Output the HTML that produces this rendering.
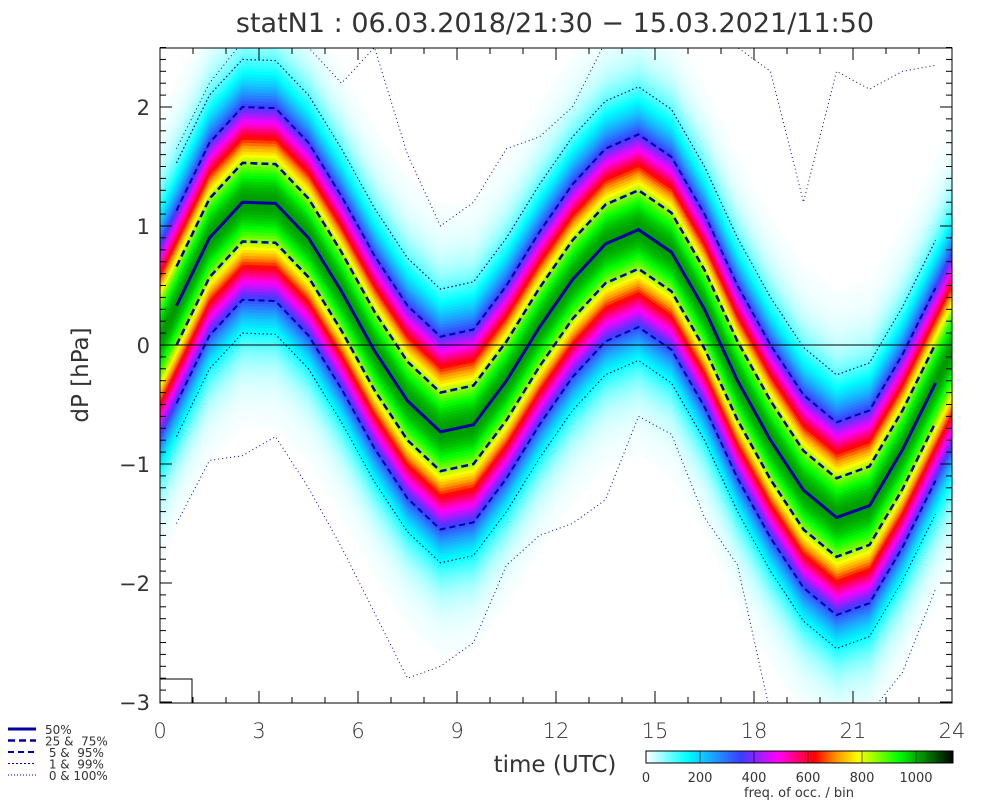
<!DOCTYPE html>
<html><head><meta charset="utf-8"><style>
body{margin:0;background:#fff;width:1000px;height:800px;overflow:hidden}
svg text{font-family:"DejaVu Sans","Liberation Sans",sans-serif;}
</style></head><body>
<svg id="s" width="1000" height="800" xmlns="http://www.w3.org/2000/svg"></svg>
<script>
const S=document.getElementById('s');let h='';
const X=t=>160+t*33, Y=v=>345-v*119;
const med=[0.33,0.9,1.2,1.19,0.9,0.45,-0.05,-0.47,-0.73,-0.67,-0.3,0.15,0.55,0.85,0.97,0.78,0.3,-0.3,-0.8,-1.22,-1.45,-1.35,-0.88,-0.32];
const hrs=med.map((_,i)=>i+0.5);
const ht=[0,...hrs,24], hm=[med[0]-(med[1]-med[0])/2,...med,med[23]+(med[23]-med[22])/2];
const stops=[[0,[255,255,255]],[150,[0,255,255]],[350,[60,60,255]],[480,[255,0,255]],[620,[255,0,0]],[700,[255,150,0]],[780,[255,255,0]],[930,[0,255,0]],[1130,[0,0,0]]];
function col(c){if(c>=1130)c=1130;for(let i=1;i<stops.length;i++){if(c<=stops[i][0]){const a=stops[i-1],b=stops[i],f=(c-a[0])/(b[0]-a[0]);return 'rgb('+a[1].map((v,k)=>Math.round(v+(b[1][k]-v)*f)).join(',')+')';}}}
h+='<defs><clipPath id="c"><rect x="160" y="48" width="792" height="655"/></clipPath></defs><g clip-path="url(#c)">';
for(let d=1.9;d>0;d-=0.025){const c=1010*Math.exp(-d*d/0.63);
let p=ht.map((t,i)=>X(t).toFixed(1)+','+Y(hm[i]+d).toFixed(1));
let q=ht.map((t,i)=>X(t).toFixed(1)+','+Y(hm[i]-d).toFixed(1)).reverse();
h+=`<polygon points="${p.concat(q).join(' ')}" fill="${col(c)}"/>`;}
h+='</g>';
h+=`<line x1="160" y1="345" x2="952" y2="345" stroke="#000" stroke-width="1"/>`;
function line(vals,st){h+=`<polyline points="${hrs.map((t,i)=>X(t).toFixed(1)+','+Y(vals[i]).toFixed(1)).join(' ')}" fill="none" stroke="#0000a0" ${st} clip-path="url(#c)"/>`;}
const up0=[1.65,2.2,2.55,2.5,2.5,2.2,2.5,1.6,1.0,1.2,1.65,1.75,2.0,2.55,2.6,2.6,2.55,2.5,2.3,1.2,2.3,2.15,2.3,2.35];
const lo0=[-1.5,-0.97,-0.93,-0.77,-1.2,-1.7,-2.25,-2.8,-2.7,-2.5,-1.85,-1.6,-1.5,-1.3,-0.6,-0.75,-1.45,-1.85,-3.1,-3.3,-3.3,-3.1,-2.75,-2.05];
line(up0,'stroke-width="1" stroke-dasharray="1,3"');line(lo0,'stroke-width="1" stroke-dasharray="1,3"');
line(med.map(v=>v+1.2),'stroke-width="1.2" stroke-dasharray="1.5,2.5"');line(med.map(v=>v-1.1),'stroke-width="1.2" stroke-dasharray="1.5,2.5"');
line(med.map(v=>v+0.8),'stroke-width="2" stroke-dasharray="6,4"');line(med.map(v=>v-0.82),'stroke-width="2" stroke-dasharray="6,4"');
line(med.map(v=>v+0.33),'stroke-width="2.5" stroke-dasharray="7,4"');line(med.map(v=>v-0.33),'stroke-width="2.5" stroke-dasharray="7,4"');
line(med,'stroke-width="3"');
h+='<rect x="160" y="48" width="792" height="655" fill="none" stroke="#000" stroke-width="1"/>';
h+='<rect x="160" y="679" width="32" height="24" fill="none" stroke="#000" stroke-width="1"/>';
for(let t=0;t<=24;t++){const x=X(t),L=t%3==0?12:6;h+=`<line x1="${x}" y1="703" x2="${x}" y2="${703-L}" stroke="#000"/><line x1="${x}" y1="48" x2="${x}" y2="${48+L}" stroke="#000"/>`;
if(t%3==0)h+=`<text x="${x}" y="738" font-size="21" text-anchor="middle" fill="#333" font-weight="300">${t}</text>`;}
for(let v=-3;v<=2.5001;v+=0.1){const y=Y(v),maj=Math.abs(v-Math.round(v))<0.01,L=maj?12:6;h+=`<line x1="160" y1="${y}" x2="${160+L}" y2="${y}" stroke="#000"/><line x1="952" y1="${y}" x2="${952-L}" y2="${y}" stroke="#000"/>`;
if(maj)h+=`<text x="150" y="${y+8}" font-size="21" text-anchor="end" fill="#333">${Math.round(v)<0?'−'+(-Math.round(v)):Math.round(v)}</text>`;}
h+=`<text x="555" y="32" font-size="27" text-anchor="middle" fill="#333">statN1 : 06.03.2018/21:30 − 15.03.2021/11:50</text>`;
h+=`<text x="555" y="772" font-size="23" text-anchor="middle" fill="#333">time (UTC)</text>`;
h+=`<text transform="translate(88,375) rotate(-90)" font-size="23" text-anchor="middle" fill="#333">dP [hPa]</text>`;
h+='<defs><linearGradient id="g">'+stops.map(s=>`<stop offset="${s[0]/1130}" stop-color="rgb(${s[1].join(',')})"/>`).join('')+'</linearGradient></defs>';
h+='<rect x="646" y="751" width="307" height="12" fill="url(#g)" stroke="#000" stroke-width="1"/>';
for(let k=0;k<=5;k++){const x=646+k*54;h+=`<line x1="${x}" y1="751" x2="${x}" y2="763" stroke="#000" stroke-width="0.6"/><text x="${x}" y="782" font-size="13" text-anchor="middle" fill="#333">${k*200}</text>`;}
h+=`<text x="799" y="797" font-size="13" text-anchor="middle" fill="#333">freq. of occ. / bin</text>`;
const lg=[['stroke-width="3"','50%'],['stroke-width="2.5" stroke-dasharray="7,4"','25 &amp;  75%'],['stroke-width="2" stroke-dasharray="6,4"',' 5 &amp;  95%'],['stroke-width="1" stroke-dasharray="2,2"',' 1 &amp;  99%'],['stroke-width="1" stroke-dasharray="1,2"',' 0 &amp; 100%']];
lg.forEach((l,i)=>{const y=729+i*11.5;h+=`<line x1="8" y1="${y}" x2="36" y2="${y}" stroke="#0000a0" ${l[0]}/><text x="45" y="${y+5}" font-size="12" fill="#333" xml:space="preserve">${l[1]}</text>`;});
S.innerHTML=h;
</script>
</body></html>
